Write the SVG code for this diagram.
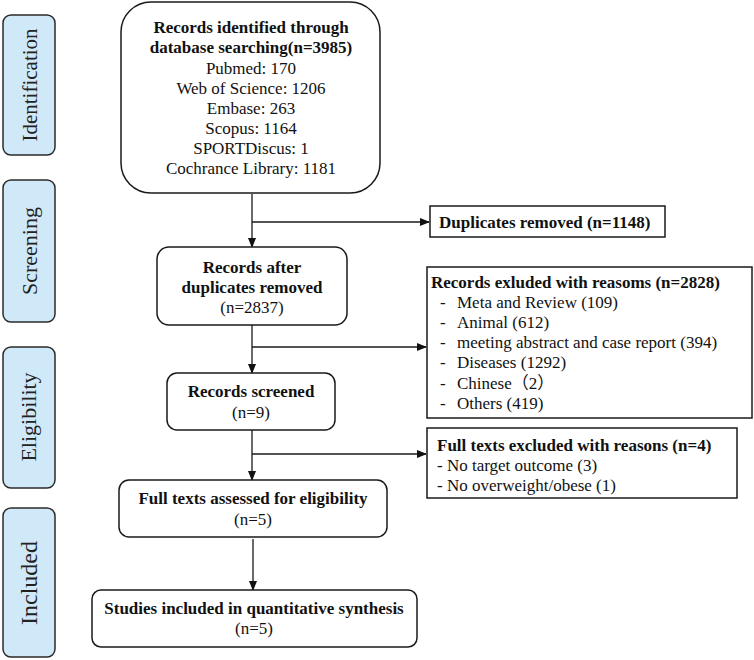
<svg xmlns="http://www.w3.org/2000/svg" width="754" height="660" viewBox="0 0 754 660">
<defs>
<style>
.box{fill:#fff;stroke:#1a1a1a;stroke-width:1.5}
.side{fill:#d0e9f8;stroke:#2a2a2a;stroke-width:1.5}
.t{font-family:"Liberation Serif","Times New Roman","Noto Sans CJK SC",serif;font-size:17px;fill:#111}
.b{font-weight:bold}
.c{text-anchor:middle}
.s{font-family:"Liberation Serif","Times New Roman",serif;font-size:22px;fill:#222;text-anchor:middle}
.ln{stroke:#1a1a1a;stroke-width:1.3;fill:none}
</style>
<marker id="ah" markerWidth="10" markerHeight="8" refX="9" refY="4" orient="auto" markerUnits="userSpaceOnUse">
<path d="M0,0 L10,4 L0,8 Z" fill="#111"/>
</marker>
</defs>
<rect width="754" height="660" fill="#fff"/>

<g id="side-identification">
<rect class="side" x="3" y="15" width="52" height="140" rx="8"/>
<text class="s" transform="translate(37,85) rotate(-90)" style="font-size:21px">Identification</text>
</g>
<g id="side-screening">
<rect class="side" x="3" y="180" width="52" height="142" rx="8"/>
<text class="s" transform="translate(37,251) rotate(-90)">Screening</text>
</g>
<g id="side-eligibility">
<rect class="side" x="3" y="347" width="52" height="141" rx="8"/>
<text class="s" transform="translate(36,417) rotate(-90)">Eligibility</text>
</g>
<g id="side-included">
<rect class="side" x="3" y="508" width="52" height="149" rx="8"/>
<text class="s" transform="translate(37,583) rotate(-90)" style="font-size:24px">Included</text>
</g>

<g id="connectors">
<line class="ln" x1="252" y1="194" x2="252" y2="247" marker-end="url(#ah)"/>
<line class="ln" x1="252" y1="222" x2="429" y2="222" marker-end="url(#ah)"/>
<line class="ln" x1="252" y1="325" x2="252" y2="373" marker-end="url(#ah)"/>
<line class="ln" x1="252" y1="347" x2="426" y2="347" marker-end="url(#ah)"/>
<line class="ln" x1="252" y1="430" x2="252" y2="480" marker-end="url(#ah)"/>
<line class="ln" x1="252" y1="454" x2="426" y2="454" marker-end="url(#ah)"/>
<line class="ln" x1="253" y1="539" x2="253" y2="590" marker-end="url(#ah)"/>
</g>

<g id="records-identified">
<rect class="box" x="121" y="2" width="259" height="191" rx="30"/>
<text class="t b c" x="251" y="33">Records identified through</text>
<text class="t b c" x="251" y="53">database searching(n=3985)</text>
<text class="t c" x="251" y="74">Pubmed: 170</text>
<text class="t c" x="251" y="94">Web of Science: 1206</text>
<text class="t c" x="251" y="114">Embase: 263</text>
<text class="t c" x="251" y="134">Scopus: 1164</text>
<text class="t c" x="251" y="154">SPORTDiscus: 1</text>
<text class="t c" x="251" y="174">Cochrance Library: 1181</text>
</g>

<g id="duplicates-removed">
<rect class="box" x="430" y="206" width="235" height="31"/>
<text class="t b" x="439" y="228">Duplicates removed (n=1148)</text>
</g>

<g id="records-after-duplicates">
<rect class="box" x="157" y="247" width="190" height="78" rx="12"/>
<text class="t b c" x="252" y="273">Records after</text>
<text class="t b c" x="252" y="293">duplicates removed</text>
<text class="t c" x="252" y="313">(n=2837)</text>
</g>

<g id="records-excluded">
<rect class="box" x="427" y="267" width="325" height="151"/>
<text class="t b" x="431" y="288">Records exluded with reasoms (n=2828)</text>
<text class="t" x="440" y="308">-</text><text class="t" x="457" y="308">Meta and Review (109)</text>
<text class="t" x="440" y="328">-</text><text class="t" x="457" y="328">Animal (612)</text>
<text class="t" x="440" y="348">-</text><text class="t" x="457" y="348">meeting abstract and case report (394)</text>
<text class="t" x="440" y="368">-</text><text class="t" x="457" y="368">Diseases (1292)</text>
<text class="t" x="440" y="389">-</text><text class="t" x="457" y="389">Chinese（2）</text>
<text class="t" x="440" y="409">-</text><text class="t" x="457" y="409">Others (419)</text>
</g>

<g id="records-screened">
<rect class="box" x="167" y="373" width="168" height="57" rx="10"/>
<text class="t b c" x="251" y="397">Records screened</text>
<text class="t c" x="251" y="418">(n=9)</text>
</g>

<g id="full-texts-excluded">
<rect class="box" x="427" y="428" width="310" height="70"/>
<text class="t b" x="437" y="451">Full texts excluded with reasons (n=4)</text>
<text class="t" x="437" y="471">- No target outcome (3)</text>
<text class="t" x="437" y="491">- No overweight/obese (1)</text>
</g>

<g id="full-texts-assessed">
<rect class="box" x="119" y="480" width="268" height="57" rx="10"/>
<text class="t b c" x="253" y="504">Full texts assessed for eligibility</text>
<text class="t c" x="253" y="525">(n=5)</text>
</g>

<g id="studies-included">
<rect class="box" x="92" y="590" width="325" height="57" rx="9"/>
<text class="t b c" x="254" y="614">Studies included in quantitative synthesis</text>
<text class="t c" x="254" y="634">(n=5)</text>
</g>
</svg>
